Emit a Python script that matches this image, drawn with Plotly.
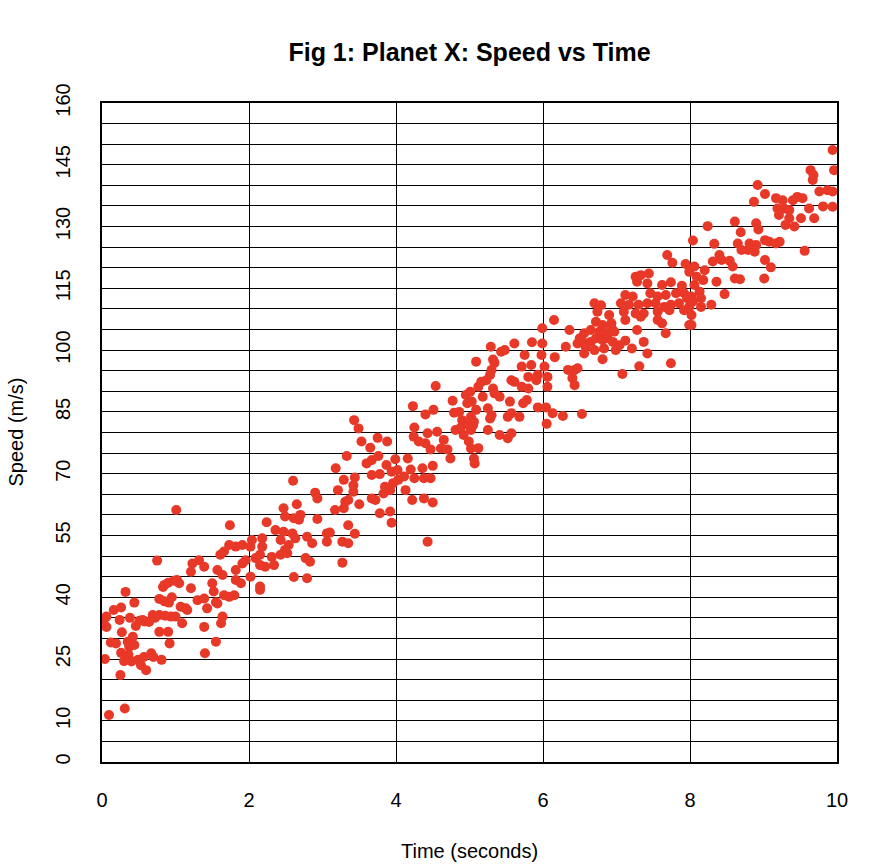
import plotly.graph_objects as go

# Time (seconds) and speed (m/s), grouped by time bands
time_0_1 = [1.01, 0.75, 0.83, 0.90, 0.98, 0.32, 0.44, 0.78, 0.85, 0.91, 0.16, 0.26, 0.06, 0.06,
            0.24, 0.38, 0.51, 0.58, 0.69, 0.78, 0.94, 0.78, 0.90, 0.92, 0.19, 0.35, 0.42, 0.44,
            0.26, 0.04, 0.40, 0.49, 0.53, 0.60, 0.67, 0.81, 0.25, 0.31, 0.095, 0.02, 0.12, 0.30,
            0.36, 0.46, 0.55, 0.64, 0.72, 0.86, 0.70, 0.57, 0.27, 0.85, 0.95, 0.37]
speed_0_1 = [61.2, 48.9, 42.5, 43.5, 44.0, 41.3, 38.7, 39.6, 39.0, 38.7, 36.9, 37.5, 35.3, 32.8,
             34.5, 35.0, 34.3, 34.1, 35.7, 35.7, 35.3, 31.6, 31.6, 28.8, 28.8, 29.2, 30.4, 28.4,
             26.5, 25.0, 24.4, 24.8, 23.5, 22.3, 26.4, 24.8, 21.1, 13.0, 11.4, 34.0, 29.0, 24.5,
             26.0, 33.0, 34.5, 34.0, 35.0, 35.5, 25.5, 25.5, 31.5, 43.0, 40.0, 28.0]

time_1_2 = [1.74, 1.73, 1.82, 1.91, 1.61, 1.66, 1.23, 1.32, 1.39, 1.21, 1.57, 1.64, 1.82, 1.91,
            1.955, 1.02, 1.05, 1.82, 1.89, 1.21, 1.50, 1.52, 1.30, 1.39, 1.57, 1.43, 1.55, 1.66,
            1.73, 1.80, 1.07, 1.14, 1.16, 1.00, 1.09, 1.39, 1.64, 1.62, 1.55, 1.40]
speed_1_2 = [57.5, 52.7, 52.3, 52.7, 50.3, 51.1, 48.2, 49.0, 47.4, 46.2, 46.6, 45.4, 46.6, 48.2,
             49.0, 44.2, 43.4, 44.2, 43.4, 42.2, 43.4, 41.4, 39.3, 39.7, 38.5, 37.3, 38.8, 40.5,
             40.1, 40.5, 37.7, 37.3, 36.9, 35.3, 33.7, 32.8, 35.3, 33.7, 29.2, 26.4]

time_2_3 = [2.60, 2.90, 2.93, 2.47, 2.65, 2.49, 2.61, 2.70, 2.68, 2.24, 2.93, 2.36, 2.47, 2.59,
            2.63, 2.18, 2.04, 2.02, 2.79, 2.86, 3.06, 2.43, 2.54, 2.49, 2.18, 2.15, 2.09, 2.31,
            2.43, 2.52, 2.77, 2.83, 2.15, 2.22, 2.34, 2.02, 2.15, 2.15, 2.61, 2.79]
speed_2_3 = [68.3, 65.4, 64.0, 61.6, 62.6, 59.6, 59.2, 60.0, 58.8, 58.2, 59.0, 56.3, 55.9, 55.5,
             54.3, 54.3, 53.9, 52.3, 54.7, 53.1, 55.5, 53.9, 52.7, 51.5, 52.3, 50.3, 49.5, 49.8,
             50.3, 50.7, 49.5, 48.6, 47.8, 47.4, 47.8, 45.0, 42.6, 41.8, 44.9, 44.6]

time_3_4 = [3.43, 3.49, 3.53, 3.65, 3.75, 3.88, 3.33, 3.18, 3.60, 3.67, 3.76, 3.87, 3.99, 3.67,
            3.78, 3.94, 4.03, 3.29, 3.44, 3.42, 3.21, 3.42, 3.85, 3.92, 3.96, 3.83, 3.67, 3.72,
            3.31, 3.35, 3.29, 3.50, 3.17, 3.78, 3.92, 3.94, 3.35, 3.10, 3.06, 3.27, 3.35, 3.44,
            3.27]
speed_3_4 = [83.0, 81.0, 77.8, 76.3, 78.7, 77.8, 74.3, 71.3, 72.5, 73.3, 74.3, 72.1, 73.5, 69.7,
             69.9, 70.5, 68.5, 68.5, 69.1, 67.2, 66.0, 65.6, 66.8, 66.0, 67.7, 65.2, 64.0, 63.6,
             63.2, 63.6, 61.6, 62.6, 61.2, 60.4, 60.8, 58.1, 57.5, 55.7, 53.5, 53.5, 53.1, 55.4,
             48.4]

time_4_5 = [4.54, 4.95, 5.01, 4.77, 4.97, 5.03, 4.23, 4.40, 4.51, 4.79, 4.86, 4.90, 5.02, 5.06,
            4.25, 4.43, 4.56, 4.81, 4.88, 4.99, 5.02, 4.92, 4.24, 4.31, 4.40, 4.47, 4.65, 4.61,
            4.70, 4.74, 4.99, 5.02, 5.06, 4.16, 4.02, 4.20, 4.36, 4.50, 4.11, 4.25, 4.38, 4.47,
            4.13, 4.22, 4.38, 4.50, 4.43]
speed_4_5 = [91.3, 89.1, 89.9, 87.7, 87.1, 87.5, 86.4, 84.4, 85.5, 84.8, 85.0, 83.0, 83.8, 82.6,
             81.2, 79.8, 80.2, 80.6, 81.2, 81.8, 80.6, 79.4, 79.0, 77.8, 77.4, 75.9, 78.2, 76.1,
             75.9, 73.7, 77.8, 76.1, 73.7, 73.7, 70.9, 71.0, 71.3, 71.9, 69.3, 68.9, 68.9, 68.9,
             66.0, 63.6, 64.0, 63.0, 53.5]

time_5_6 = [5.99, 5.61, 5.85, 5.99, 5.29, 5.43, 5.48, 5.75, 5.98, 5.09, 5.32, 5.34, 5.71, 5.84,
            6.02, 5.30, 5.28, 5.80, 5.93, 5.91, 5.57, 5.61, 5.16, 5.23, 5.12, 5.32, 5.71, 5.80,
            5.18, 5.34, 5.41, 5.55, 5.78, 5.73, 5.93, 6.04, 5.09, 5.25, 5.57, 5.68, 5.52, 5.28,
            5.30, 5.05, 5.25, 5.41, 5.57, 5.52, 6.05, 5.12, 5.07]
speed_5_6 = [105.3, 101.6, 101.9, 101.6, 100.8, 99.6, 100.0, 98.8, 98.8, 97.2, 97.7, 96.9, 96.0, 96.4,
             96.0, 95.2, 94.0, 93.5, 94.0, 92.7, 92.7, 92.3, 92.3, 92.7, 91.1, 90.7, 91.1, 90.7,
             88.7, 89.5, 88.7, 87.5, 87.9, 87.1, 86.1, 86.1, 85.5, 85.9, 84.7, 83.8, 83.8, 83.4,
             84.2, 81.8, 80.6, 79.4, 79.8, 78.6, 82.1, 76.2, 72.5]

time_6_7 = [6.70, 6.79, 6.74, 6.90, 6.15, 6.72, 6.81, 6.93, 6.36, 6.56, 6.65, 6.77, 6.86, 6.97,
            6.93, 6.50, 6.47, 6.54, 6.65, 6.72, 6.81, 6.88, 6.95, 6.31, 6.58, 6.56, 6.70, 6.83,
            6.99, 7.04, 6.16, 6.81, 6.34, 6.43, 6.47, 6.40, 6.43, 6.06, 6.06, 6.13, 6.27, 6.53]
speed_6_7 = [111.4, 110.9, 109.3, 108.5, 107.3, 106.9, 106.1, 106.5, 104.9, 104.1, 104.9, 104.5, 104.1, 104.5,
             105.7, 102.9, 101.6, 102.0, 102.0, 102.9, 102.4, 102.9, 102.0, 100.8, 100.8, 99.2, 100.0, 100.4,
             100.0, 101.2, 98.3, 97.8, 95.2, 95.2, 95.6, 93.2, 91.5, 93.5, 91.1, 84.7, 84.0, 84.5]

time_7_8 = [7.69, 7.76, 7.94, 7.99, 7.26, 7.33, 7.44, 7.28, 7.42, 7.62, 7.74, 7.89, 7.12, 7.22,
            7.46, 7.56, 7.67, 7.81, 7.92, 7.96, 7.06, 7.17, 7.30, 7.42, 7.53, 7.65, 7.74, 7.85,
            7.10, 7.26, 7.37, 7.56, 7.72, 7.92, 7.99, 7.12, 7.33, 7.56, 7.62, 7.28, 7.67, 7.99,
            7.12, 7.21, 7.37, 7.42, 7.31, 7.74, 7.08]
speed_7_8 = [123.1, 121.2, 120.9, 119.0, 117.8, 118.2, 118.6, 116.6, 116.2, 115.8, 116.5, 115.6, 113.4, 113.0,
             113.8, 113.0, 113.4, 113.8, 113.8, 112.6, 111.4, 111.0, 111.0, 111.4, 111.4, 110.5, 111.0, 111.4,
             109.3, 108.9, 108.9, 109.3, 109.7, 109.7, 110.5, 107.3, 108.1, 107.3, 106.5, 104.9, 104.1, 106.1,
             102.3, 100.4, 102.0, 99.2, 96.1, 96.8, 94.2]

time_8_9 = [8.92, 9.02, 8.87, 8.24, 8.61, 8.90, 8.93, 8.69, 8.04, 8.33, 8.65, 8.81, 8.90, 9.02,
            8.70, 8.79, 8.88, 8.40, 8.43, 8.31, 8.54, 8.58, 9.02, 8.06, 8.20, 8.09, 8.18, 8.36,
            8.61, 8.68, 9.01, 8.06, 8.13, 8.02, 8.15, 8.47, 8.04, 8.15, 8.29, 8.02, 8.02]
speed_8_9 = [140.1, 137.9, 136.0, 130.1, 131.2, 130.8, 129.3, 128.6, 126.6, 125.8, 125.9, 125.9, 125.5, 126.7,
             124.3, 124.3, 123.9, 123.1, 121.9, 121.5, 121.7, 120.3, 121.9, 120.3, 119.4, 117.8, 117.0, 116.6,
             117.4, 117.2, 117.4, 115.8, 114.2, 113.0, 112.6, 113.6, 111.8, 110.5, 111.0, 108.5, 106.1]

time_9_10 = [9.94, 9.96, 9.64, 9.68, 9.67, 9.17, 9.26, 9.40, 9.46, 9.53, 9.76, 9.87, 9.94, 9.81,
             9.94, 9.19, 9.28, 9.35, 9.62, 9.21, 9.35, 9.51, 9.69, 9.30, 9.42, 9.08, 9.17, 9.22,
             9.56, 9.10]
speed_9_10 = [148.6, 143.7, 143.7, 142.5, 141.3, 136.9, 136.4, 136.4, 137.2, 136.9, 138.5, 138.8, 138.5, 134.9,
              134.8, 134.4, 134.4, 134.0, 134.4, 132.8, 132.0, 132.0, 132.0, 130.4, 130.0, 126.3, 125.9, 126.3,
              124.1, 120.1]

x_tick_vals = [0, 2, 4, 6, 8, 10]
y_tick_vals = [0, 10, 25, 40, 55, 70, 85, 100, 115, 130, 145, 160]
title_text = "Fig 1: Planet X: Speed vs Time"
x_label = "Time (seconds)"
y_label = "Speed (m/s)"

time_s = (time_0_1 + time_1_2 + time_2_3 + time_3_4 + time_4_5 +
          time_5_6 + time_6_7 + time_7_8 + time_8_9 + time_9_10)
speed_ms = (speed_0_1 + speed_1_2 + speed_2_3 + speed_3_4 + speed_4_5 +
            speed_5_6 + speed_6_7 + speed_7_8 + speed_8_9 + speed_9_10)

FONT = "Liberation Sans, Arial, Helvetica, sans-serif"
FIG_W, FIG_H = 882, 866

fig = go.Figure(
    go.Scatter(
        x=time_s, y=speed_ms, mode="markers",
        marker=dict(size=10, color="rgb(232,56,40)", line=dict(width=0)),
        hoverinfo="skip",
    )
)

fig.update_layout(
    width=FIG_W, height=FIG_H,
    margin=dict(l=102, r=45, t=103, b=104),
    paper_bgcolor="white", plot_bgcolor="white",
    showlegend=False,
    font=dict(family=FONT, size=20, color="black"),
    title=dict(text="<b>" + title_text + "</b>", x=0.5, xref="paper", xanchor="center",
               y=1 - 52 / FIG_H, yref="container", yanchor="middle",
               font=dict(family=FONT, size=25, color="black")),
)

fig.update_xaxes(
    range=[0, 10], tickmode="array", tickvals=x_tick_vals,
    ticks="", showgrid=True, gridcolor="black", gridwidth=1,
    showline=True, linecolor="black", linewidth=1.5, mirror=True,
    zeroline=False, ticklabelstandoff=19,
    tickfont=dict(family=FONT, size=20, color="black"),
)
fig.update_yaxes(
    range=[0, 160], tickmode="array", tickvals=y_tick_vals,
    ticks="", showgrid=True, gridcolor="black", gridwidth=1,
    minor=dict(tick0=0, dtick=5, showgrid=True, gridcolor="black", gridwidth=1, ticks=""),
    showline=True, linecolor="black", linewidth=1.5, mirror=True,
    zeroline=False, tickangle=-90, ticklabelstandoff=22,
    tickfont=dict(family=FONT, size=20, color="black"),
)

fig.add_annotation(text=x_label, xref="paper", yref="paper", x=0.5, y=(762 - 851) / 659,
                   xanchor="center", yanchor="middle", showarrow=False,
                   font=dict(family=FONT, size=20, color="black"))
fig.add_annotation(text=y_label, xref="paper", yref="paper", x=(15 - 102) / 735, y=0.5,
                   xanchor="center", yanchor="middle", textangle=-90, showarrow=False,
                   font=dict(family=FONT, size=20, color="black"))

# Remove the browser's default 8px body margin so the figure sits at the window's corner
fig.write_html("out.html", config={"displayModeBar": False},
               post_script="document.body.style.margin='0';")
